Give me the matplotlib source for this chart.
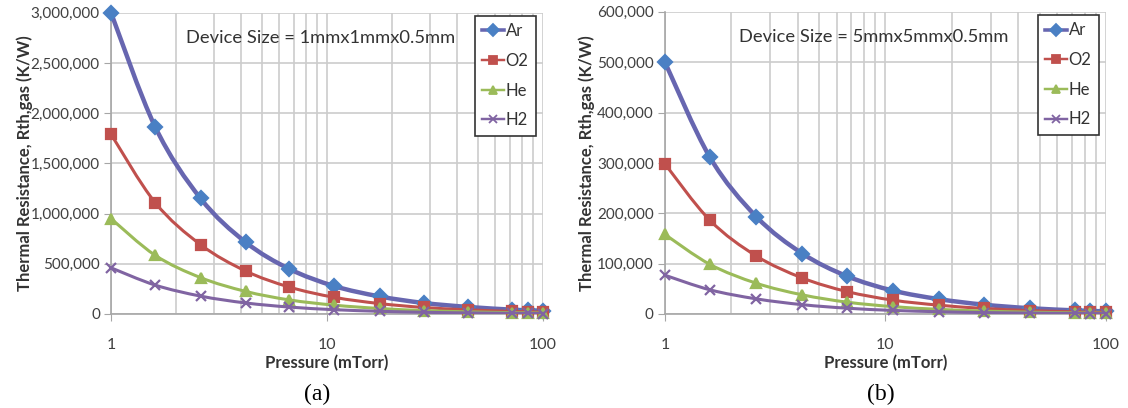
import numpy as np
import matplotlib
matplotlib.use("Agg")
import matplotlib.pyplot as plt
from matplotlib.path import Path
from matplotlib.patches import PathPatch
from matplotlib.lines import Line2D
from matplotlib.ticker import FuncFormatter, LogLocator, NullFormatter, FixedLocator

plt.rcParams['font.family'] = ['Lato', 'DejaVu Sans']

# pressure points (mTorr)
pressure = [1, 1.6, 2.6, 4.2, 6.7, 10.8, 17.5, 28, 45, 72, 85, 100]
gases = ["Ar", "O2", "He", "H2"]

# thermal resistance (K/W), 1mm x 1mm x 0.5mm device
ar_a = [3000000, 1865000, 1150000, 715000, 448000, 278000, 175000, 110000, 70000, 43000, 37000, 32000]
o2_a = [1790000, 1110000, 690000, 428000, 268000, 166000, 104000, 65000, 41000, 26000, 22000, 19000]
he_a = [950000, 585000, 362000, 225000, 140000, 88000, 55000, 34000, 21500, 13500, 11500, 9800]
h2_a = [460000, 288000, 178000, 110000, 69000, 43000, 27000, 17000, 10500, 6600, 5600, 4800]

# thermal resistance (K/W), 5mm x 5mm x 0.5mm device
ar_b = [500000, 311000, 193000, 120000, 75000, 46500, 29500, 18500, 11500, 7200, 6100, 5200]
o2_b = [298000, 186000, 115000, 71500, 44500, 27500, 17500, 11000, 6800, 4300, 3600, 3100]
he_b = [158000, 98500, 61000, 38000, 23500, 14600, 9200, 5800, 3600, 2250, 1900, 1620]
h2_b = [77000, 48000, 30000, 18500, 11500, 7100, 4500, 2800, 1750, 1100, 930, 790]

line_colors = ['#6766b0', '#c0504d', '#9bbb59', '#8064a2']
marker_colors = ['#4a80c4', '#c0504d', '#9bbb59', '#8064a2']
markers = ['D', 's', '^', 'x']
marker_sizes = [7, 7, 7, 7]
line_widths = [3.2, 2.2, 2.2, 2.2]


def smooth_path(xs, ys):
    # cubic bezier through the points, control points built in log-x space
    lx = np.log10(np.asarray(xs, float))
    y = np.asarray(ys, float)
    n = len(lx)
    verts = [(xs[0], y[0])]
    codes = [Path.MOVETO]
    for i in range(n - 1):
        a = i - 1 if i > 0 else i
        b = i + 2 if i + 2 < n else i + 1
        c1x = lx[i] + (lx[i + 1] - lx[a]) / 6
        c1y = y[i] + (y[i + 1] - y[a]) / 6
        c2x = lx[i + 1] - (lx[b] - lx[i]) / 6
        c2y = y[i + 1] - (y[b] - y[i]) / 6
        verts += [(10 ** c1x, c1y), (10 ** c2x, c2y), (xs[i + 1], y[i + 1])]
        codes += [Path.CURVE4] * 3
    return Path(verts, codes)


def draw_panel(ax, series, ymax, ystep, title):
    for k, vals in enumerate(series):
        patch = PathPatch(smooth_path(pressure, vals), fill=False,
                          edgecolor=line_colors[k], lw=line_widths[k],
                          capstyle='round', joinstyle='round', zorder=3 + k)
        ax.add_patch(patch)
        ax.plot(pressure, vals, linestyle='none', marker=markers[k],
                ms=marker_sizes[k], mfc=marker_colors[k], mec=marker_colors[k],
                mew=1.6, zorder=3 + k, clip_on=False)

    ax.set_xscale('log')
    ax.set_xlim(1, 100)
    ax.set_ylim(0, ymax)
    ax.xaxis.set_major_locator(FixedLocator([1, 10, 100]))
    ax.xaxis.set_major_formatter(FuncFormatter(lambda v, p: f"{v:g}"))
    ax.xaxis.set_minor_locator(LogLocator(base=10, subs=np.arange(2, 10)))
    ax.xaxis.set_minor_formatter(NullFormatter())
    ax.set_yticks(np.arange(0, ymax + 1, ystep))
    ax.yaxis.set_major_formatter(FuncFormatter(lambda v, p: f"{int(v):,}"))

    ax.grid(axis='x', which='both', color='#cccccc', lw=1.2, zorder=0)
    ax.grid(axis='y', which='major', color='#cccccc', lw=1.2, zorder=0)
    ax.set_axisbelow(True)
    for s in ['top', 'right']:
        ax.spines[s].set_visible(False)
    for s in ['left', 'bottom']:
        ax.spines[s].set_color('#a6a6a6')
        ax.spines[s].set_linewidth(1.2)
    ax.tick_params(axis='y', which='major', length=5, color='#a6a6a6',
                   labelsize=11, labelcolor='#404040', pad=3)
    ax.tick_params(axis='x', which='major', length=5, color='#a6a6a6',
                   labelsize=11.5, labelcolor='#404040', pad=12)
    ax.tick_params(axis='x', which='minor', length=0)

    ax.set_xlabel("Pressure (mTorr)", fontsize=12, fontweight='bold', color='#333333')
    ax.xaxis.set_label_coords(0.5, -0.163)
    ax.xaxis.label.set_va('center')
    ax.set_ylabel("Thermal Resistance, Rth,gas (K/W)", fontsize=12,
                  fontweight='bold', color='#333333')
    ax.yaxis.label.set_va('center')

    ax.text(0.485, 0.916, title, transform=ax.transAxes, ha='center',
            va='center', fontsize=13.2, color='#333333', zorder=10)

    handles = [Line2D([], [], color=line_colors[k], lw=line_widths[k] * 0.8,
                      marker=markers[k], ms=6,
                      mfc=marker_colors[k], mec=marker_colors[k], mew=1.3)
               for k in range(len(gases))]
    leg = ax.legend(handles, gases, loc='upper right', fontsize=12,
                    handlelength=1.3, handletextpad=0.1, labelspacing=0.82,
                    borderpad=0.45, borderaxespad=0, fancybox=False, framealpha=1,
                    bbox_to_anchor=(0.984, 0.99))
    leg.get_frame().set_edgecolor('#333333')
    leg.get_frame().set_linewidth(1.2)
    for t in leg.get_texts():
        t.set_color('#333333')
    leg.set_zorder(20)


fig = plt.figure(figsize=(11.28, 4.08), dpi=100)
ax1 = fig.add_axes([0.0984, 0.2304, 0.383, 0.7385])
ax2 = fig.add_axes([0.5895, 0.2304, 0.391, 0.7405])

draw_panel(ax1, [ar_a, o2_a, he_a, h2_a], 3000000, 500000, "Device Size = 1mmx1mmx0.5mm")
draw_panel(ax2, [ar_b, o2_b, he_b, h2_b], 600000, 100000, "Device Size = 5mmx5mmx0.5mm")
ax1.yaxis.set_label_coords(-0.2, 0.5)
ax2.yaxis.set_label_coords(-0.178, 0.5)
ax2.texts[0].set_position((0.474, 0.916))

fig.text(0.281, 0.032, "(a)", ha='center', va='center', fontsize=17,
         family='Liberation Serif')
fig.text(0.781, 0.032, "(b)", ha='center', va='center', fontsize=17,
         family='Liberation Serif')

fig.savefig("out.png", dpi=100)
